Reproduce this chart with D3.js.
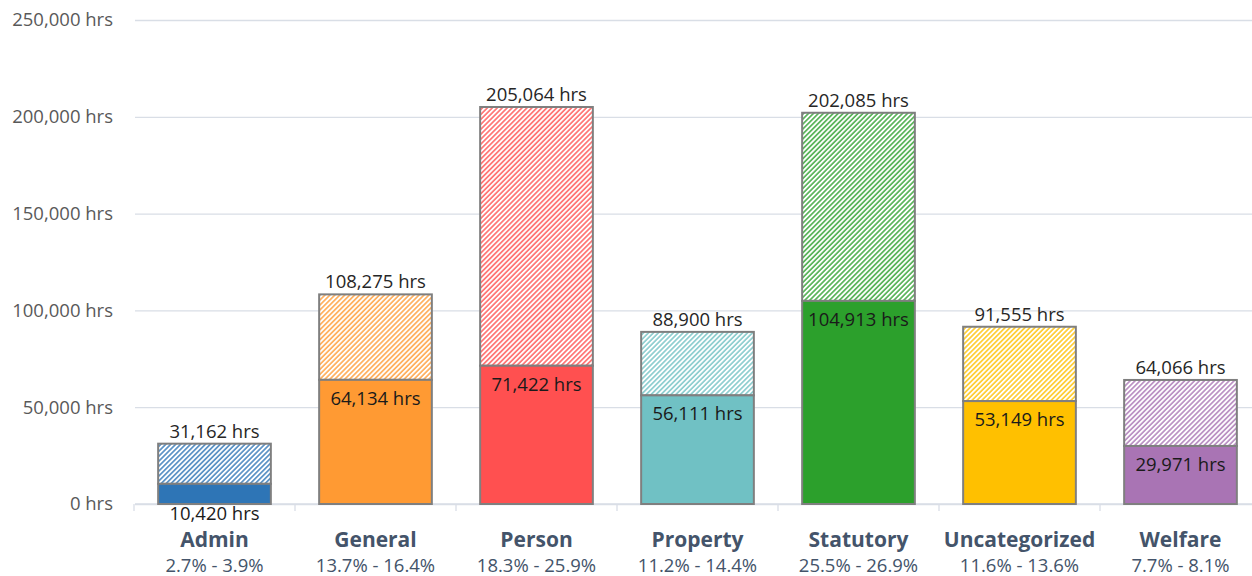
<!DOCTYPE html>
<html>
<head>
<meta charset="utf-8">
<script src="https://cdn.jsdelivr.net/npm/d3@7"></script>
<style>
  body { margin: 0; background: #fff; }
  svg text { font-family: "Open Sans", "Liberation Sans", sans-serif; }
</style>
</head>
<body>
<div id="chart"></div>
<script>
// chart data
const categories = ["Admin", "General", "Person", "Property", "Statutory", "Uncategorized", "Welfare"];
const lowHours = [10420, 64134, 71422, 56111, 104913, 53149, 29971];
const highHours = [31162, 108275, 205064, 88900, 202085, 91555, 64066];
const pctRanges = ["2.7% - 3.9%", "13.7% - 16.4%", "18.3% - 25.9%", "11.2% - 14.4%", "25.5% - 26.9%", "11.6% - 13.6%", "7.7% - 8.1%"];
const colors = ["#2E75B6", "#FF9A33", "#FF5050", "#70C1C4", "#2CA02C", "#FFC000", "#A974B4"];
const yTicks = [0, 50000, 100000, 150000, 200000, 250000];

const width = 1252, height = 576;

const svg = d3.select("#chart")
    .append("svg")
    .attr("width", width)
    .attr("height", height);

const x = d3.scaleBand()
    .domain(categories)
    .range([134, 1261])
    .paddingInner(0.3)
    .paddingOuter(0.15);

const y = d3.scaleLinear()
    .domain([0, 250000])
    .range([504, 20]);

const fmt = d3.format(",");

// hatch patterns, one per colour
const defs = svg.append("defs");
colors.forEach(function(c, i) {
    const p = defs.append("pattern")
        .attr("id", "hatch" + i)
        .attr("patternUnits", "userSpaceOnUse")
        .attr("width", 3.5)
        .attr("height", 3.5)
        .attr("patternTransform", "rotate(45)");
    p.append("rect").attr("width", 3.5).attr("height", 3.5).attr("fill", "#fff");
    p.append("line")
        .attr("x1", 0.9).attr("y1", 0)
        .attr("x2", 0.9).attr("y2", 3.5)
        .attr("stroke", c)
        .attr("stroke-width", 1.5)
        .attr("stroke-opacity", 0.9);
});

// gridlines + y labels
const yAxis = svg.append("g")
    .attr("transform", "translate(135,0)")
    .call(d3.axisLeft(y)
        .tickValues(yTicks)
        .tickSize(-(width - 135))
        .tickPadding(22)
        .tickFormat(d => fmt(d) + " hrs"));
yAxis.select(".domain").remove();
yAxis.selectAll(".tick line").attr("stroke", "#D9DEE6").attr("stroke-width", 1.3);
yAxis.selectAll(".tick text")
    .attr("fill", "#595959")
    .style("font-size", "18.5px");

// x axis baseline with ticks at band edges
svg.append("line")
    .attr("x1", 135).attr("x2", width)
    .attr("y1", y(0)).attr("y2", y(0))
    .attr("stroke", "#D9DEE6").attr("stroke-width", 1.3);
const step = x.step();
d3.range(categories.length + 1).forEach(function(i) {
    const bx = x.range()[0] + i * step;
    svg.append("line")
        .attr("x1", bx).attr("x2", bx)
        .attr("y1", y(0)).attr("y2", y(0) + 7)
        .attr("stroke", "#D9DEE6").attr("stroke-width", 1.3);
});

const bars = svg.append("g")
    .selectAll("g")
    .data(categories)
    .enter()
    .append("g");

// hatched upper part (high estimate)
bars.append("rect")
    .attr("x", d => x(d))
    .attr("width", x.bandwidth())
    .attr("y", (d, i) => y(highHours[i]))
    .attr("height", (d, i) => y(lowHours[i]) - y(highHours[i]))
    .attr("fill", (d, i) => "url(#hatch" + i + ")")
    .attr("stroke", "#7F7F7F")
    .attr("stroke-width", 2);

// solid lower part (low estimate)
bars.append("rect")
    .attr("x", d => x(d))
    .attr("width", x.bandwidth())
    .attr("y", (d, i) => y(lowHours[i]))
    .attr("height", (d, i) => y(0) - y(lowHours[i]))
    .attr("fill", (d, i) => colors[i])
    .attr("stroke", "#7F7F7F")
    .attr("stroke-width", 2);

// total label above bar
bars.append("text")
    .attr("x", d => x(d) + x.bandwidth() / 2)
    .attr("y", (d, i) => y(highHours[i]) - 6)
    .attr("text-anchor", "middle")
    .attr("fill", "#262626")
    .style("font-size", "18.5px")
    .text((d, i) => fmt(highHours[i]) + " hrs");

// low label inside solid part (below the bar when it is too thin)
bars.append("text")
    .attr("x", d => x(d) + x.bandwidth() / 2)
    .attr("y", function(d, i) {
        const top = y(lowHours[i]);
        if (y(0) - top < 30) return y(0) + 16;
        return top + 25;
    })
    .attr("text-anchor", "middle")
    .attr("fill", "#1a1a1a")
    .style("font-size", "18.5px")
    .text((d, i) => fmt(lowHours[i]) + " hrs");

// category names and percentage ranges
bars.append("text")
    .attr("x", d => x(d) + x.bandwidth() / 2)
    .attr("y", 547)
    .attr("text-anchor", "middle")
    .attr("fill", "#44546A")
    .style("font-size", "21px")
    .style("font-weight", "bold")
    .text(d => d);

bars.append("text")
    .attr("x", d => x(d) + x.bandwidth() / 2)
    .attr("y", 572)
    .attr("text-anchor", "middle")
    .attr("fill", "#44546A")
    .style("font-size", "18.5px")
    .text((d, i) => pctRanges[i]);
</script>
</body>
</html>
